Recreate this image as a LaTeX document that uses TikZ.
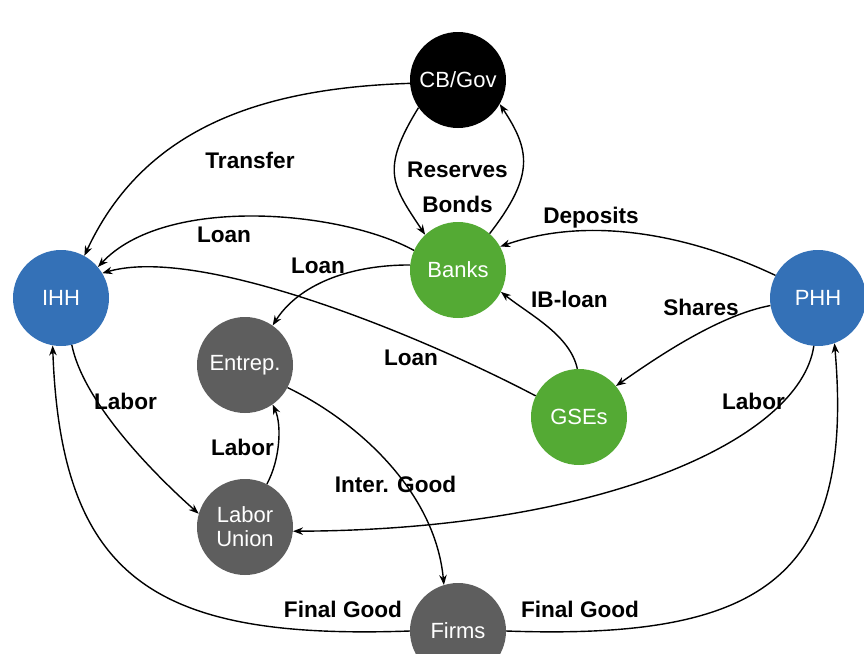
\documentclass[tikz,border=0pt]{standalone}
\usepackage{fontspec}
\setmainfont{Liberation Sans}
\usetikzlibrary{arrows.meta}
\definecolor{hhblue}{HTML}{3471B7}
\definecolor{bankgreen}{HTML}{54AA34}
\definecolor{agentgray}{HTML}{5E5E5E}
\begin{document}
\begin{tikzpicture}[x=1pt,y=-1pt,
  agent/.style={circle, minimum size=96pt, inner sep=0pt, text=white,
    font=\fontsize{22}{24}\selectfont, align=center},
  flow/.style={draw=black, line width=1.4pt, -{Stealth[length=10pt,width=7.5pt]}},
  lbl/.style={font=\bfseries\fontsize{22.6}{26}\selectfont, inner sep=0pt, anchor=base}]
\useasboundingbox (0,0) rectangle (864,653);

% agents
\node[agent, fill=black]      (cb)     at (458,80)  {CB/Gov};
\node[agent, fill=bankgreen]  (banks)  at (458,270) {Banks};
\node[agent, fill=hhblue]     (ihh)    at (61,298)  {IHH};
\node[agent, fill=hhblue]     (phh)    at (818,298) {PHH};
\node[agent, fill=agentgray]  (entrep) at (245,365) {Entrep.};
\node[agent, fill=bankgreen]  (gse)    at (579,417) {GSEs};
\node[agent, fill=agentgray]  (lu)     at (245,527) {Labor\\Union};
\node[agent, fill=agentgray]  (firms)  at (458,631) {Firms};

% flows
\draw[flow] (cb.184) .. controls (266,88) and (145,125) .. (ihh.61);
\draw[flow] (cb.215) .. controls (380,170) and (392,185) .. (banks.133);
\draw[flow] (banks.49) .. controls (535,175) and (530,150) .. (cb.330);
\draw[flow] (phh.152) .. controls (690,235) and (590,215) .. (banks.29);
\draw[flow] (banks.156) .. controls (340,210) and (165,195) .. (ihh.40);
\draw[flow] (banks.174) .. controls (340,265) and (295,290) .. (entrep.55);
\draw[flow] (gse.154) .. controls (420,335) and (200,245) .. (ihh.31);
\draw[flow] (gse.92) .. controls (570,335) and (530,315) .. (banks.333);
\draw[flow] (phh.189) .. controls (720,315) and (660,355) .. (gse.40);
\draw[flow] (phh.265) .. controls (800,440) and (600,530) .. (lu.355);
\draw[flow] (ihh.283) .. controls (85,410) and (172,490) .. (lu.164);
\draw[flow] (lu.63) .. controls (280,460) and (282,425) .. (entrep.305);
\draw[flow] (entrep.332) .. controls (355,420) and (435,490) .. (firms.107);
\draw[flow] (firms.180) .. controls (156,640) and (61,580) .. (ihh.260);
\draw[flow] (firms.0) .. controls (760,640) and (855,580) .. (phh.290);

% labels
\node[lbl] (lTransfer) at (250,168) {Transfer};
\node[lbl] (lReserves) at (457.5,177) {Reserves};
\node[lbl] (lBonds)    at (457.5,212) {Bonds};
\node[lbl] (lDeposits) at (591,223) {Deposits};
\node[lbl] (lLoanA)    at (224,242) {Loan};
\node[lbl] (lLoanB)    at (318,273) {Loan};
\node[lbl] (lIBloan)   at (569.5,307) {IB-loan};
\node[lbl] (lShares)   at (701,315) {Shares};
\node[lbl] (lLoanC)    at (411,365) {Loan};
\node[lbl] (lLaborA)   at (125.5,409) {Labor};
\node[lbl] (lLaborB)   at (242.5,455) {Labor};
\node[lbl] (lLaborC)   at (753.5,409) {Labor};
\node[lbl] (lInter)    at (395.5,492) {Inter. Good};
\node[lbl] (lFinalA)   at (343,617) {Final Good};
\node[lbl] (lFinalB)   at (580,617) {Final Good};
\end{tikzpicture}
\end{document}
